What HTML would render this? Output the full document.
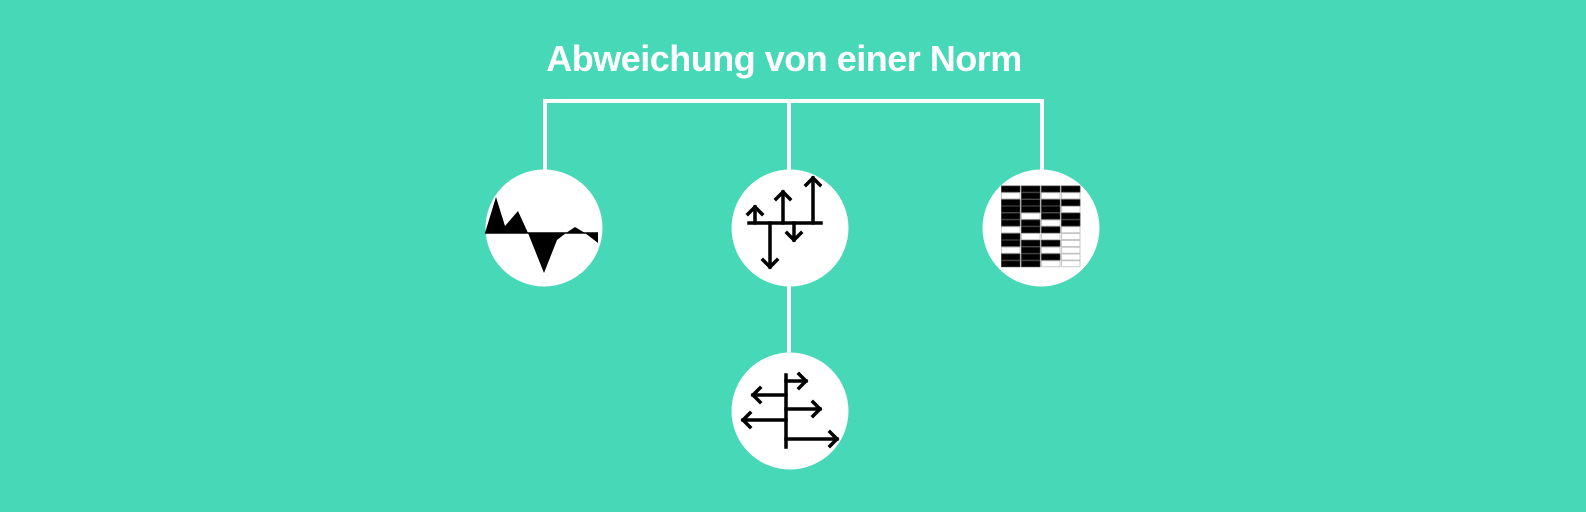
<!DOCTYPE html>
<html><head><meta charset="utf-8"><style>
html,body{margin:0;padding:0;background:#46d8b7;}
svg{display:block}
</style></head><body>
<svg width="1586" height="512" viewBox="0 0 1586 512" xmlns="http://www.w3.org/2000/svg">
<rect width="1586" height="512" fill="#46d8b7"/>
<text x="784" y="71" text-anchor="middle" font-family="Liberation Sans, sans-serif" font-size="36" fill="#fff" font-weight="bold" letter-spacing="-0.5">Abweichung von einer Norm</text>
<g stroke="#fff" stroke-width="4" fill="none">
<polyline points="545,172 545,101 1042,101 1042,172"/>
<line x1="789" y1="101" x2="789" y2="360"/>
</g>
<g fill="#fff">
<circle cx="544" cy="228" r="58.5"/>
<circle cx="790" cy="228" r="58.5"/>
<circle cx="1041" cy="228" r="58.5"/>
<circle cx="790" cy="411" r="58.5"/>
</g>
<g fill="#000">
<polygon points="485,233 496,197 505,226 518,211 528,233"/>
<polygon points="528,233 544,273 557,240 566,233"/>
<polygon points="566,233 575,227 585,233"/>
<polygon points="585,233 598,243 598,233"/>
</g>
<line x1="485" y1="233" x2="598" y2="233" stroke="#000" stroke-width="1.5"/>
<g stroke="#000" stroke-width="3.5" fill="none" stroke-linecap="square">
<line x1="749" y1="223" x2="821" y2="223"/>
<line x1="755" y1="223" x2="755" y2="207"/><polyline points="748,214 755,207 762,214"/>
<line x1="783" y1="223" x2="783" y2="192"/><polyline points="776,199 783,192 790,199"/>
<line x1="813" y1="223" x2="813" y2="178"/><polyline points="806,185 813,178 820,185"/>
<line x1="770" y1="223" x2="770" y2="267"/><polyline points="763,260 770,267 777,260"/>
<line x1="794" y1="223" x2="794" y2="240"/><polyline points="787,233 794,240 801,233"/>
</g>
<g stroke="#000" stroke-width="3.5" fill="none" stroke-linecap="square">
<line x1="786" y1="375" x2="786" y2="447"/>
<line x1="786" y1="381" x2="806" y2="381"/><polyline points="799,374 806,381 799,388"/>
<line x1="786" y1="409" x2="820" y2="409"/><polyline points="813,402 820,409 813,416"/>
<line x1="786" y1="439" x2="837" y2="439"/><polyline points="830,432 837,439 830,446"/>
<line x1="786" y1="395" x2="753" y2="395"/><polyline points="760,388 753,395 760,402"/>
<line x1="786" y1="420" x2="743" y2="420"/><polyline points="750,413 743,420 750,427"/>
</g>
<g id="tbl"></g>
<script>
var p=["BBBB","WBWW","BBBB","BBBW","BWBB","BBWB","WBBW","BWWW","BBBW","WBWW","BBBW","BBWW"];
var g=document.getElementById("tbl"),ns="http://www.w3.org/2000/svg";
for(var r=0;r<12;r++)for(var c=0;c<4;c++){var e=document.createElementNS(ns,"rect");
e.setAttribute("x",1001.5+c*20);e.setAttribute("y",186+r*6.8);e.setAttribute("width",18.5);e.setAttribute("height",6);
var b=p[r][c]=="B";e.setAttribute("fill",b?"#000":"#fff");e.setAttribute("stroke",b?"#333":"#bbb");e.setAttribute("stroke-width","0.8");g.appendChild(e);}
</script>
</svg>
</body></html>
